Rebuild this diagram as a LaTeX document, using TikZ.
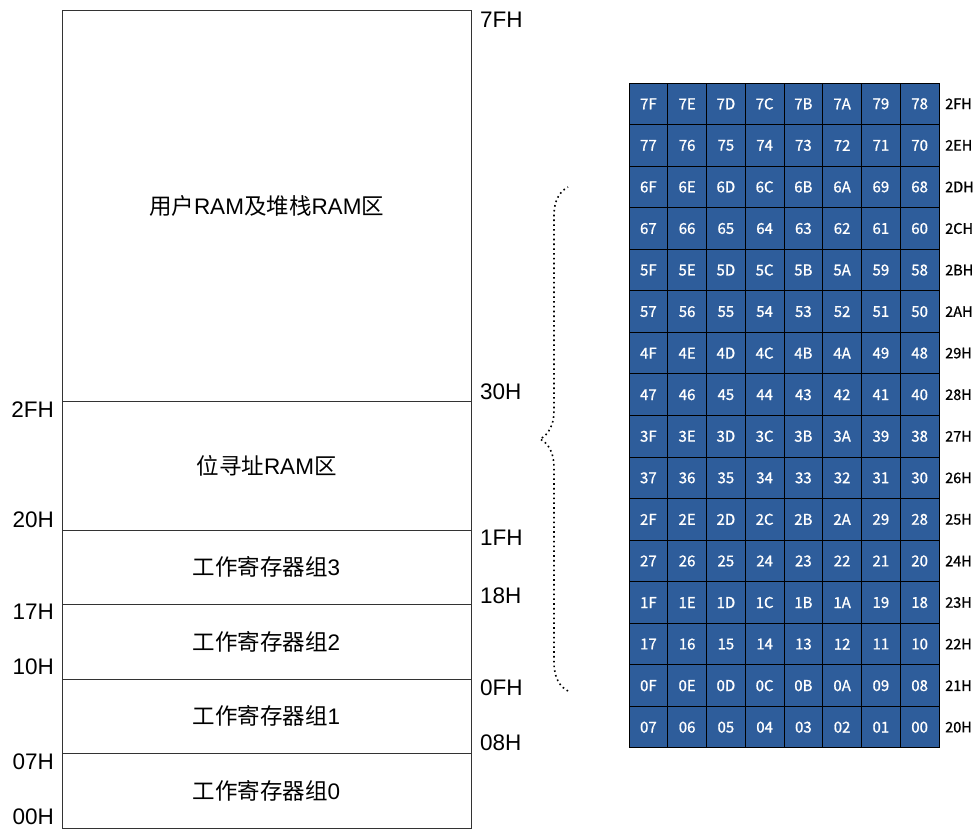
\documentclass[tikz,border=0pt]{standalone}
\usepackage{fontspec}
\setmainfont{Liberation Sans}
\newfontfamily\cjk{Noto Sans CJK SC}
\newfontfamily\cellfont{Noto Sans CJK SC}[FakeBold=1]
\usetikzlibrary{decorations.pathreplacing}
\definecolor{cellblue}{RGB}{46,93,155}
\newcommand\hexdig[1]{\ifcase#1\relax 0\or 1\or 2\or 3\or 4\or 5\or 6\or 7\or 8\or 9\or A\or B\or C\or D\or E\or F\fi}

\begin{document}
\begin{tikzpicture}[x=1pt,y=-1pt,
region/.style={draw=black!80,line width=1pt,minimum width=409pt,inner sep=0pt,font=\fontsize{22.5}{26}\selectfont},
addr/.style={inner sep=0pt,font=\fontsize{22.5}{26}\selectfont},
cell/.style={draw=black,fill=cellblue,line width=1pt,minimum width=38.75pt,minimum height=41.56pt,inner sep=0pt,text=white,font=\cellfont\fontsize{15}{17}\selectfont},
rowaddr/.style={anchor=west,inner sep=0pt,font=\cellfont\fontsize{14.5}{16}\selectfont}]

\useasboundingbox (0,0) rectangle (974,830);

\node[region,minimum height=391pt] (userram) at (266.5,205.5) {{\cjk 用户}RAM{\cjk 及堆栈}RAM{\cjk 区}};
\node[region,minimum height=129pt] (bitram) at (266.5,465.5) {{\cjk 位寻址}RAM{\cjk 区}};
\node[region,minimum height=74pt] (bank3) at (266.5,567) {{\cjk 工作寄存器组}3};
\node[region,minimum height=75pt] (bank2) at (266.5,641.5) {{\cjk 工作寄存器组}2};
\node[region,minimum height=74pt] (bank1) at (266.5,716) {{\cjk 工作寄存器组}1};
\node[region,minimum height=75pt] (bank0) at (266.5,790.5) {{\cjk 工作寄存器组}0};

\foreach \y/\t in {410/2FH,520/20H,612/17H,667/10H,762/07H,817/00H}
  \node[addr,anchor=east] (l\t) at (54,\y) {\t};
\foreach \y/\t in {20/7FH,392/30H,538/1FH,596/18H,688/0FH,743/08H}
  \node[addr,anchor=west] (r\t) at (480,\y) {\t};

\foreach \r in {0,...,15}{
  \foreach \c in {0,...,7}{
    \pgfmathtruncatemacro\v{(15-\r)*8+7-\c}
    \pgfmathtruncatemacro\hi{\v/16}
    \pgfmathtruncatemacro\lo{mod(\v,16)}
    \node[cell] (c\r-\c) at ({629+38.75*(\c+0.5)},{83+41.56*(\r+0.5)}) {\hexdig\hi\hexdig\lo};
  }
  \pgfmathtruncatemacro\a{15-\r}
  \node[rowaddr] (b\r) at (945,{83+41.56*(\r+0.5)}) {2\hexdig\a H};
}

\coordinate (bt) at (568,187);
\coordinate (bb) at (568,691);
\draw[decorate,decoration={brace,amplitude=28pt},line width=1.6pt,dash pattern=on 1.6pt off 3.2pt] (bb) -- (bt);
\end{tikzpicture}
\end{document}
